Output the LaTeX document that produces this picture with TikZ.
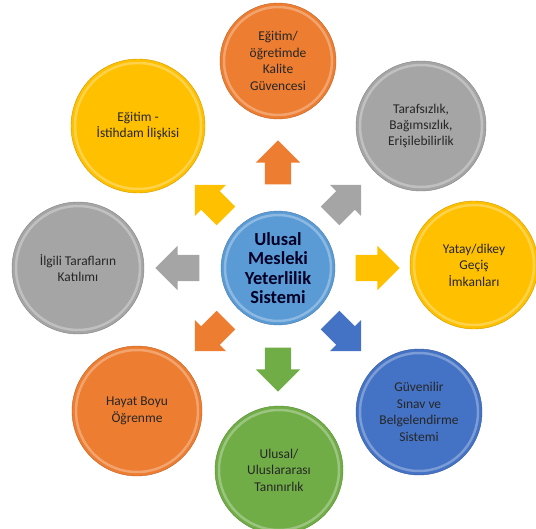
\documentclass[tikz,border=0pt]{standalone}
\usepackage{fontspec}
\setmainfont{Carlito}
\usepackage{tikz}
\usetikzlibrary{shapes}
\usetikzlibrary{shapes.arrows}

\definecolor{cOrange}{HTML}{ED7D31}
\definecolor{cGray}{HTML}{A5A5A5}
\definecolor{cYellow}{HTML}{FFC000}
\definecolor{cBlue}{HTML}{4472C4}
\definecolor{cGreen}{HTML}{70AD47}
\definecolor{cSky}{HTML}{5B9BD5}
\definecolor{cText}{HTML}{262626}

\begin{document}
\begin{tikzpicture}
			[x=1bp, y=-1bp,
			ball/.style 2 args={circle, inner sep=0pt, minimum size=#2, fill=#1, draw=#1!80!black, line width=0.4pt,
				align=center, text=cText, font=\fontsize{13.5}{16.5}\selectfont,
				path picture={\draw[#1!50!white, line width=2.5pt, opacity=0.6] (path picture bounding box.center) circle [radius=#2/2-4bp];}},
			blockarrow/.style={single arrow, draw=none, fill=#1, inner xsep=0pt, inner ysep=13bp, minimum height=44bp,
				single arrow head extend=9bp, single arrow head indent=0pt}]
			
			\useasboundingbox (0,0) rectangle (536,529);
			
			\node[ball={cSky}{114bp}, text=black!85!blue, font=\bfseries\fontsize{18.5}{19.5}\selectfont] (UMYS) at (278,268) {Ulusal\\Mesleki\\Yeterlilik\\Sistemi};
			
			\node[ball={cOrange}{116bp}] (kalite) at (278,61) {Eğitim/\\öğretimde\\Kalite\\Güvencesi};
			\node[ball={cGray}{130bp}] (taraf) at (421,126) {Tarafsızlık,\\Bağımsızlık,\\Erişilebilirlik};
			\node[ball={cYellow}{128bp}] (yatay) at (474,265) {Yatay/dikey\\Geçiş\\İmkanları};
			\node[ball={cBlue}{126bp}] (sinav) at (419,412) {Güvenilir\\Sınav ve\\Belgelendirme\\Sistemi};
			\node[ball={cGreen}{128bp}] (tanin) at (279,470) {Ulusal/\\Uluslararası\\Tanınırlık};
			\node[ball={cOrange}{130bp}] (hayat) at (137,411) {Hayat Boyu\\Öğrenme};
			\node[ball={cGray}{132bp}] (katilim) at (78,268) {İlgili Tarafların\\Katılımı};
			\node[ball={cYellow}{134bp}] (istihdam) at (138,126) {Eğitim -\\İstihdam İlişkisi};
			
			% arrows out of the centre
			\node[blockarrow=cOrange, rotate=90] (aKalite) at (278,169) {};
			\node[blockarrow=cGray, rotate=45] (aTaraf) at (341,205) {};
			\node[blockarrow=cYellow, rotate=0] (aYatay) at (371,268) {};
			\node[blockarrow=cBlue, rotate=-45] (aSinav) at (341,331) {};
			\node[blockarrow=cGreen, rotate=-90] (aTanin) at (278,363) {};
			\node[blockarrow=cOrange, rotate=-135] (aHayat) at (215,331) {};
			\node[blockarrow=cGray, rotate=180] (aKatilim) at (184,268) {};
			\node[blockarrow=cYellow, rotate=135] (aIstihdam) at (215,205) {};
		\end{tikzpicture}
\end{document}
